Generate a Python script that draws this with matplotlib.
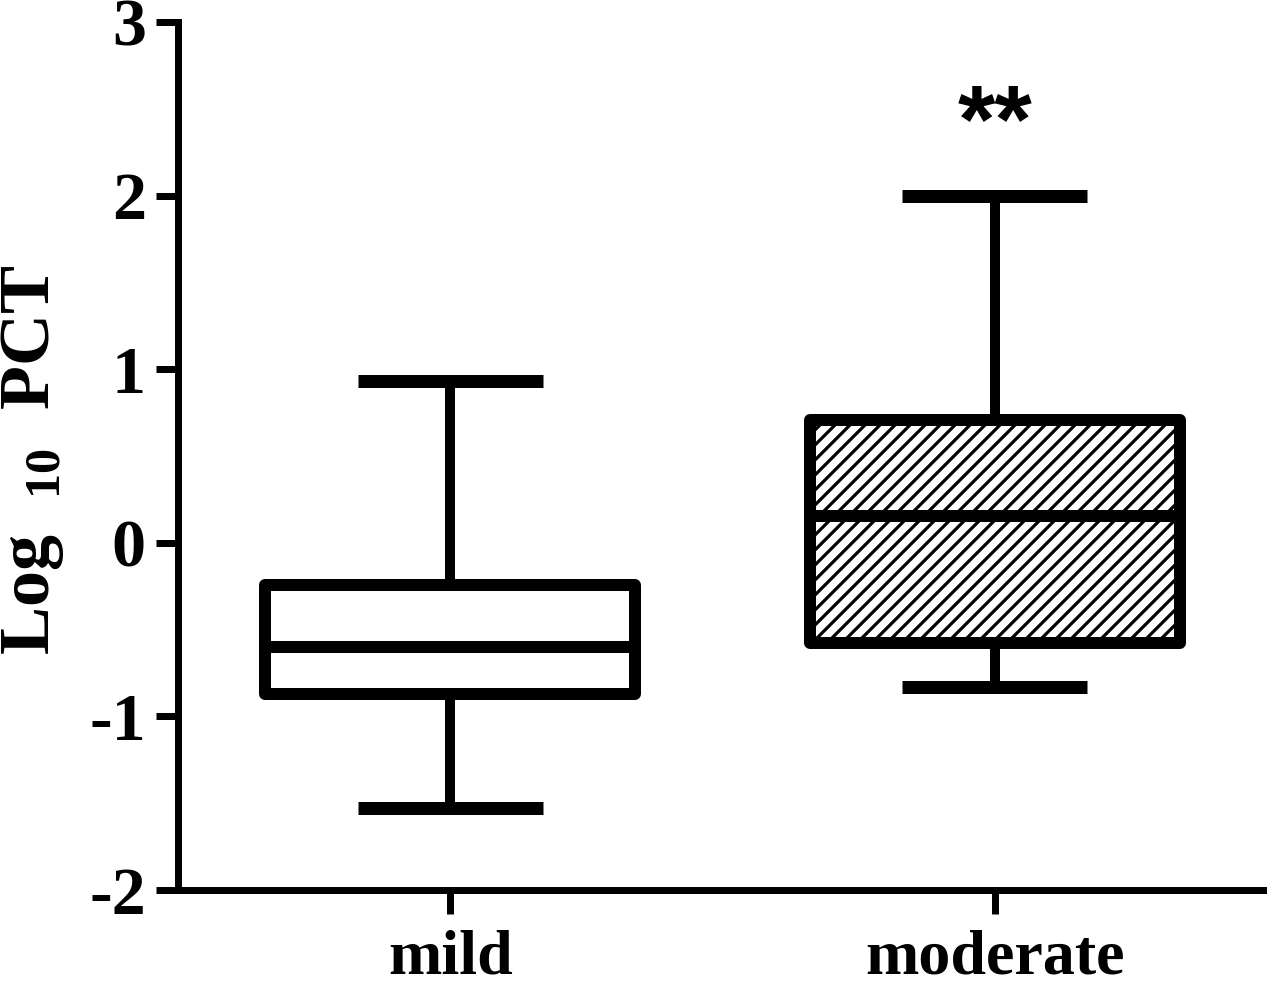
import matplotlib
matplotlib.use('Agg')
import matplotlib.pyplot as plt

# Box summary values (log10 PCT)
groups = ['mild', 'moderate']
whisker_low = [-1.53, -0.83]
q1 = [-0.87, -0.58]
median = [-0.60, 0.155]
q3 = [-0.245, 0.71]
whisker_high = [0.93, 2.0]
hatches = ['', '//']
y_ticks = [-2, -1, 0, 1, 2, 3]
signif = '**'

dpi = 90
def px(v):
    # convert pixels to points at this dpi
    return v * 72.0 / dpi

plt.rcParams['hatch.linewidth'] = px(3.2)
plt.rcParams['font.family'] = ['Liberation Serif', 'DejaVu Serif']
plt.rcParams['font.weight'] = 'bold'
plt.rcParams['mathtext.fontset'] = 'custom'
plt.rcParams['mathtext.bf'] = 'Liberation Serif:bold'
plt.rcParams['mathtext.rm'] = 'Liberation Serif:bold'

fig = plt.figure(figsize=(1267 / dpi, 987 / dpi), dpi=dpi)
ax = fig.add_axes([178 / 1267, 1 - 890 / 987, 1 - 178 / 1267, (890 - 22) / 987])

stats = []
for i, name in enumerate(groups):
    stats.append({'label': name, 'whislo': whisker_low[i], 'q1': q1[i], 'med': median[i],
                  'q3': q3[i], 'whishi': whisker_high[i], 'fliers': []})

positions = list(range(1, len(groups) + 1))
bp = ax.bxp(stats, positions=positions, widths=0.68, patch_artist=True, showfliers=False,
            boxprops=dict(linewidth=px(12), edgecolor='black', facecolor='white', joinstyle='round'),
            medianprops=dict(linewidth=px(12), color='black', solid_capstyle='butt'),
            whiskerprops=dict(linewidth=px(10), color='black'),
            capprops=dict(linewidth=px(13), color='black', solid_capstyle='butt'),
            capwidths=0.34)
for patch, h in zip(bp['boxes'], hatches):
    patch.set_hatch(h)

ax.set_xlim(0.5, 2.5)
ax.set_ylim(-2, 3)
ax.set_yticks(y_ticks)
ax.set_yticklabels([str(t) for t in y_ticks])
ax.set_xticks(positions)
ax.set_xticklabels(groups)

for s in ['top', 'right']:
    ax.spines[s].set_visible(False)
for s in ['left', 'bottom']:
    ax.spines[s].set_linewidth(px(7))
ax.tick_params(axis='y', direction='out', length=px(22), width=px(7),
               labelsize=px(68), pad=px(10))
ax.tick_params(axis='x', direction='out', length=px(24), width=px(7),
               labelsize=px(64), pad=px(16))

fig.text(33 / 1267, 1 - 460 / 987, r'Log  $_{\mathbf{10}}$  PCT', rotation=90,
         ha='center', va='center', fontsize=px(72), fontweight='bold')

ax.text(positions[1], 2.40, signif, ha='center', va='center', fontsize=px(96),
        fontweight='bold', family=['Liberation Sans', 'DejaVu Sans'])

fig.savefig('out.png', dpi=dpi)
